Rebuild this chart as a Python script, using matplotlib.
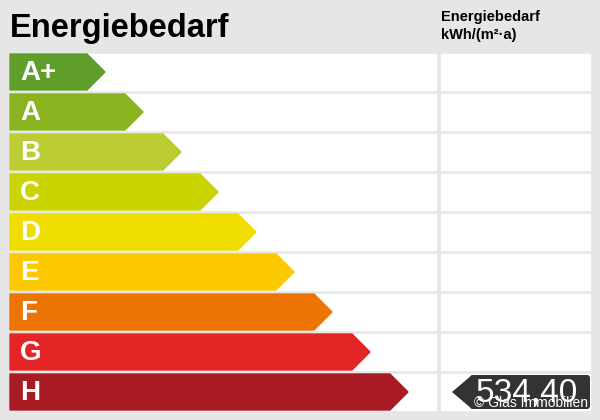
import matplotlib.pyplot as plt
from matplotlib.patches import Polygon, Rectangle, FancyBboxPatch

classes = ['A+', 'A', 'B', 'C', 'D', 'E', 'F', 'G', 'H']
arrow_ends = [105, 143, 181, 218, 256, 294, 332, 370, 408]
colors = ['#5f9e2a', '#89b31f', '#bccd33', '#cbd300', '#efdc00',
          '#fcc800', '#eb7405', '#e32526', '#a81b25']
value_class = 'H'
value_text = '534,40'

plt.rcParams['font.family'] = ['Liberation Sans', 'DejaVu Sans']

fig = plt.figure(figsize=(6, 4.2), dpi=100, facecolor='#e6e6e6')
ax = fig.add_axes([0, 0, 1, 1])
ax.set_xlim(0, 600)
ax.set_ylim(420, 0)
ax.axis('off')

ax.text(10, 28, 'Energiebedarf', fontsize=23.5, fontweight='bold', va='center')
ax.text(441, 26, 'Energiebedarf\nkWh/(m²·a)', fontsize=10.5, fontweight='bold',
        va='center', linespacing=1.4)

h = 36
for i, (c, end, col) in enumerate(zip(classes, arrow_ends, colors)):
    top = 54 + 40 * i
    # white row backgrounds
    ax.add_patch(Rectangle((10, top), 426, h, color='white'))
    ax.add_patch(Rectangle((441, top), 149, h, color='white'))
    # colored arrow
    pts = [(10, top), (end - 18, top), (end, top + h / 2),
           (end - 18, top + h), (10, top + h)]
    ax.add_patch(Polygon(pts, closed=True, color=col))
    ax.text(20, top + h / 2 + 1, c, fontsize=20, fontweight='bold',
            color='white', va='center')
    if c == value_class:
        ax.add_patch(FancyBboxPatch((470, top + 1), 120, h - 2,
                                    boxstyle='round,pad=0,rounding_size=3',
                                    color='#333333', lw=0))
        ax.add_patch(Polygon([(452, top + h / 2), (472, top + 1), (472, top + h - 1)],
                             closed=True, color='#333333', lw=0))
        ax.text(578, top + h / 2 + 1, value_text, fontsize=24, color='white',
                ha='right', va='center')

ax.text(588, 403, '© Glas Immobilien', fontsize=10, color='white', ha='right',
        va='center')

fig.savefig('out.png', dpi=100, facecolor=fig.get_facecolor())
